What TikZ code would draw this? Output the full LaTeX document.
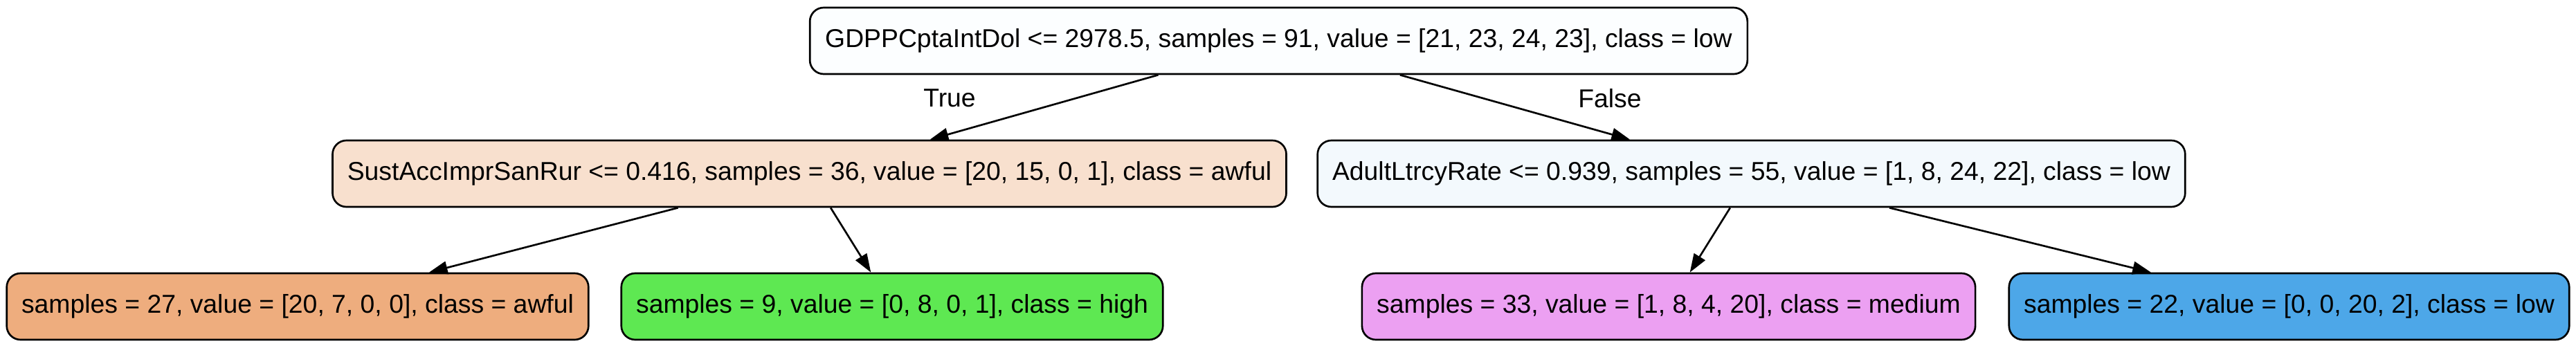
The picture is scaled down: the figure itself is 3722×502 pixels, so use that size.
\documentclass[tikz,border=0pt]{standalone}
\usepackage{fontspec}
\setmainfont{Liberation Sans}
\usetikzlibrary{arrows.meta}

\definecolor{treeroot}{HTML}{FCFEFF}
\definecolor{treeawfulpale}{HTML}{F8E0CE}
\definecolor{treelowpale}{HTML}{F3F9FD}
\definecolor{treeawful}{HTML}{EEAD7E}
\definecolor{treehigh}{HTML}{5EE852}
\definecolor{treemedium}{HTML}{ECA0F2}
\definecolor{treelow}{HTML}{4DA7E8}
\tikzset{tnode/.style={draw, line width=1pt, rounded corners=7.5pt, minimum height=36pt, inner xsep=8pt, font=\fontsize{14}{16}\selectfont}}
\tikzset{edge/.style={line width=1pt, -{Triangle[length=10pt, width=7pt]}}}

\begin{document}
\begin{tikzpicture}[x=0.375pt, y=-0.375pt]%{{{
        \useasboundingbox (0, 0) rectangle (3722, 502);

        \node[tnode, fill=treeroot, minimum width=508pt] (N0) at (1847.5, 59) {GDPPCptaIntDol <= 2978.5, samples = 91, value = [21, 23, 24, 23], class = low};

        \node[tnode, fill=treeawfulpale, minimum width=515pt] (N1) at (1169.5, 251) {SustAccImprSanRur <= 0.416, samples = 36, value = [20, 15, 0, 1], class = awful};
        \node[tnode, fill=treelowpale, minimum width=468pt] (N4) at (2530.5, 251) {AdultLtrcyRate <= 0.939, samples = 55, value = [1, 8, 24, 22], class = low};

        \node[tnode, fill=treeawful, minimum width=313.5pt] (N2) at (430, 443) {samples = 27, value = [20, 7, 0, 0], class = awful};
        \node[tnode, fill=treehigh, minimum width=292.5pt] (N3) at (1289, 443) {samples = 9, value = [0, 8, 0, 1], class = high};
        \node[tnode, fill=treemedium, minimum width=331.5pt] (N5) at (2411, 443) {samples = 33, value = [1, 8, 4, 20], class = medium};
        \node[tnode, fill=treelow, minimum width=303.5pt] (N6) at (3307.5, 443) {samples = 22, value = [0, 0, 20, 2], class = low};

        \draw [edge] (N0) -- (N1);
        \draw [edge] (N0) -- (N4);
        \draw [edge] (N1) -- (N2);
        \draw [edge] (N1) -- (N3);
        \draw [edge] (N4) -- (N5);
        \draw [edge] (N4) -- (N6);

        \node[font=\fontsize{14}{16}\selectfont] (Ltrue) at (1372, 142) {True};
        \node[font=\fontsize{14}{16}\selectfont] (Lfalse) at (2326, 142) {False};

    \end{tikzpicture}
\end{document}
